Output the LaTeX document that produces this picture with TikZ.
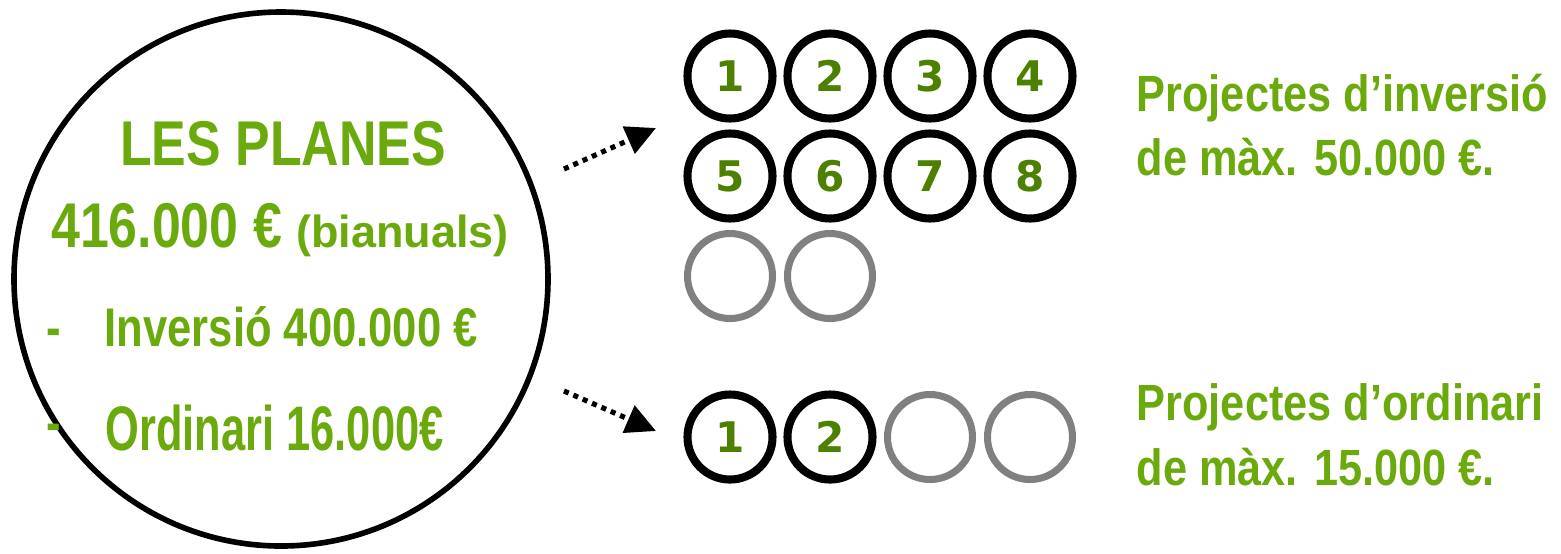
\documentclass[tikz,border=0pt]{standalone}
\usepackage{fontspec}
\usepackage{tikz}
\usetikzlibrary{arrows.meta,positioning}
\newfontfamily\narrowsans[FakeStretch=0.85]{Liberation Sans}
\newfontfamily\titlesans[FakeStretch=0.82]{Liberation Sans}
\newfontfamily\inversans[FakeStretch=0.8]{Liberation Sans}
\newfontfamily\ordinsans[FakeStretch=0.69]{Liberation Sans}
\newfontfamily\widesans{Liberation Sans}
\newfontfamily\numsans{DejaVu Sans}
\definecolor{leafgreen}{RGB}{107,170,12}
\definecolor{darkleaf}{RGB}{78,128,0}

\begin{document}
\begin{tikzpicture}[
  numc/.style={circle,draw=black,line width=2.3pt,minimum size=8.5mm,inner sep=0pt,outer sep=0pt,
    text=darkleaf,font=\numsans\bfseries\fontsize{12}{12}\selectfont},
  freec/.style={numc,draw=black!50,line width=2pt},
  note/.style={text=leafgreen,inner sep=0pt,anchor=base west,font=\narrowsans\bfseries\fontsize{14.5}{15}\selectfont},
  title/.style={text=leafgreen,inner sep=0pt,anchor=base,font=\titlesans\bfseries\fontsize{18}{18}\selectfont},
  flow/.style={line width=1.45pt,dash pattern=on 1.45pt off 1.45pt,-{Triangle[length=8.5pt,width=8.2pt]}}]
\useasboundingbox (0,0) rectangle (15.61,-5.53);
% budget circle
\node[circle,draw,line width=1.6pt,minimum size=5.34cm,inner sep=0pt] (planes) at (2.81,-2.79) {};
\node[title] (nom) at (2.83,-1.65) {LES PLANES};
\node[title] (total) at (2.80,-2.47) {416.000 € {\widesans\fontsize{12.8}{13}\selectfont(bianuals)}};
\node[note,font=\inversans\bfseries\fontsize{15.5}{16}\selectfont] (dash1) at (0.46,-3.46) {-};
\node[note,font=\inversans\bfseries\fontsize{15.5}{16}\selectfont] (inv) at (1.04,-3.46) {Inversió 400.000 €};
\node[note,font=\inversans\bfseries\fontsize{15.5}{16}\selectfont] (dash2) at (0.46,-4.41) {-};
\node[note,font=\ordinsans\bfseries\fontsize{17.9}{18}\selectfont] (ord) at (1.05,-4.50) {Ordinari 16.000€};
% investment projects
\node[numc] (i1) at (7.30,-0.76) {1};
\node[numc,right=1.5mm of i1] (i2) {2};
\node[numc,right=1.5mm of i2] (i3) {3};
\node[numc,right=1.5mm of i3] (i4) {4};
\node[numc,below=1.5mm of i1] (i5) {5};
\node[numc,right=1.5mm of i5] (i6) {6};
\node[numc,right=1.5mm of i6] (i7) {7};
\node[numc,right=1.5mm of i7] (i8) {8};
\node[freec,below=1.5mm of i5] (i9) {};
\node[freec,right=1.5mm of i9] (i10) {};
% ordinary projects
\node[numc] (o1) at (7.30,-4.37) {1};
\node[numc,right=1.5mm of o1] (o2) {2};
\node[freec,right=1.5mm of o2] (o3) {};
\node[freec,right=1.5mm of o3] (o4) {};
\node[note] (invtxt) at (11.36,-1.11) {Projectes d’inversió};
\node[note] (invmax) at (11.36,-1.75) {de màx. 50.000 €.};
\node[note] (ordtxt) at (11.36,-4.20) {Projectes d’ordinari};
\node[note] (ordmax) at (11.36,-4.85) {de màx. 15.000 €.};
\coordinate (s1) at (5.64,-1.69);
\coordinate (e1) at (6.56,-1.28);
\coordinate (s2) at (5.64,-3.91);
\coordinate (e2) at (6.56,-4.31);
\draw[flow] (s1)--(e1);
\draw[flow] (s2)--(e2);
\end{tikzpicture}
\end{document}
